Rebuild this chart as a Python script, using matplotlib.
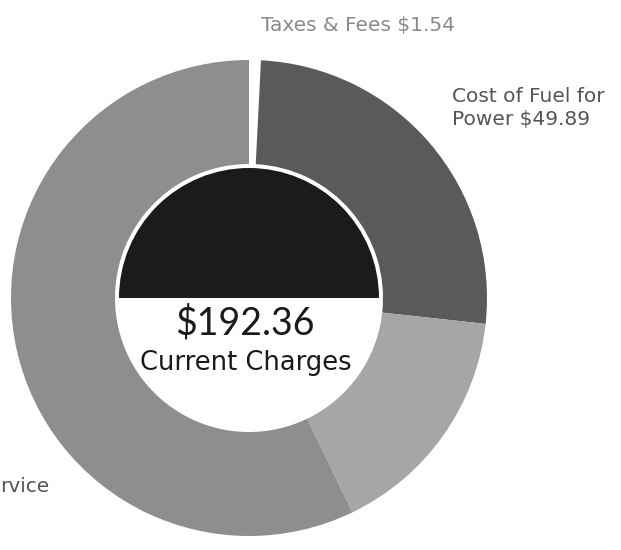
import matplotlib
matplotlib.use('Agg')
import matplotlib.pyplot as plt
from matplotlib.patches import Wedge

plt.rcParams['font.family'] = ['DejaVu Sans']

# slices, clockwise from 12 o'clock
labels = ['Taxes & Fees', 'Cost of Fuel for\nPower', 'Energy Charges', 'Electric Service']
values = [1.54, 49.89, 31.00, 109.93]
colors = ['white', '#5a5a5a', '#a6a6a6', '#8e8e8e']

W, H = 621, 550


def py(y):
    # pixel row -> data y
    return H - y


fig = plt.figure(figsize=(W / 100, H / 100), dpi=100)
ax = fig.add_axes([0, 0, 1, 1])

cx, cy = 249, py(298)
R, r_in = 238, 134

ax.pie(values, colors=colors, startangle=90, counterclock=False,
       center=(cx, cy), radius=R, frame=True,
       wedgeprops=dict(width=R - r_in, edgecolor='none'))
ax.set_xlim(0, W)
ax.set_ylim(0, H)
ax.set_aspect('equal')
ax.axis('off')

# centre: dark upper half + total
ax.add_patch(Wedge((cx, cy), 130, 0, 180, facecolor='#1b1b1b', edgecolor='none'))
total = sum(values)
ax.text(cx - 4, py(323), f'${total:.2f}', ha='center', va='center',
        fontsize=27, color='#1a1a1a', family='Lato')
ax.text(cx - 3, py(363), 'Current Charges', ha='center', va='center',
        fontsize=18.5, color='#1a1a1a')

# slice labels
ax.text(358, py(26), f'{labels[0]} ${values[0]:.2f}', ha='center', va='center',
        fontsize=14.5, color='#8a8a8a')
ax.text(452, py(108), f'{labels[1]} ${values[1]:.2f}', ha='left', va='center',
        fontsize=14.5, color='#555555', linespacing=1.27)
ax.text(0, py(486), 'rvice', ha='left', va='center',
        fontsize=14.5, color='#555555')

fig.savefig('out.png', dpi=100, facecolor='white')
